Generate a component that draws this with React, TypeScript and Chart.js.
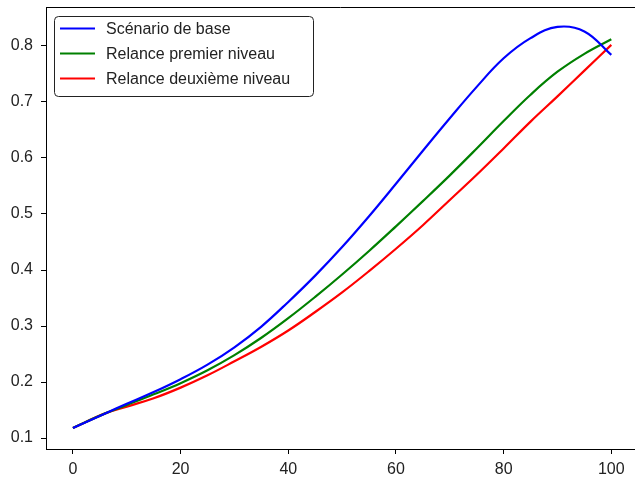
import React, { useEffect, useRef } from "react";
import { Chart, registerables } from "chart.js";

Chart.register(...registerables);

const xValues = [0, 6, 10, 15, 20, 25, 30, 35, 40, 45, 50, 55, 60, 65, 70, 75, 80, 85, 90, 95, 100];
const baseSeries = [0.118, 0.144, 0.161, 0.182, 0.205, 0.231, 0.262, 0.299, 0.343, 0.39, 0.441, 0.496, 0.554, 0.613, 0.671, 0.727, 0.778, 0.814, 0.834, 0.826, 0.784];
const firstSeries = [0.118, 0.144, 0.159, 0.178, 0.198, 0.221, 0.248, 0.279, 0.314, 0.352, 0.392, 0.434, 0.478, 0.523, 0.569, 0.617, 0.666, 0.713, 0.754, 0.786, 0.812];
const secondSeries = [0.118, 0.144, 0.156, 0.171, 0.19, 0.212, 0.237, 0.263, 0.292, 0.325, 0.36, 0.398, 0.438, 0.48, 0.525, 0.57, 0.617, 0.665, 0.71, 0.756, 0.802];
const seriesLabels = ["Scénario de base", "Relance premier niveau", "Relance deuxième niveau"];
const seriesColors = ["#0000ff", "#008000", "#ff0000"];
const xTicks = [0, 20, 40, 60, 80, 100];
const yTicks = [0.1, 0.2, 0.3, 0.4, 0.5, 0.6, 0.7, 0.8];

const FONT = "'Liberation Sans', Arial, sans-serif";

const framePlugin = {
  id: "frameAndLegend",
  afterDraw(chart: any) {
    const ctx = chart.ctx;
    const a = chart.chartArea;
    ctx.save();
    ctx.strokeStyle = "#000";
    ctx.lineWidth = 1;
    ctx.beginPath();
    ctx.moveTo(a.left, Math.round(a.top) + 0.5);
    ctx.lineTo(a.right, Math.round(a.top) + 0.5);
    ctx.stroke();

    // legend
    const bx = 54.5, by = 16.5, bw = 259, bh = 80;
    ctx.beginPath();
    (ctx as any).roundRect(bx, by, bw, bh, 4);
    ctx.fillStyle = "rgba(255,255,255,0.9)";
    ctx.fill();
    ctx.strokeStyle = "#222";
    ctx.lineWidth = 1;
    ctx.stroke();
    ctx.font = `16px ${FONT}`;
    ctx.textBaseline = "middle";
    ctx.textAlign = "left";
    chart.data.datasets.forEach((ds: any, i: number) => {
      const y = 28.5 + 25 * i;
      ctx.strokeStyle = ds.borderColor;
      ctx.lineWidth = 2;
      ctx.beginPath();
      ctx.moveTo(60, y);
      ctx.lineTo(95, y);
      ctx.stroke();
      ctx.fillStyle = "#222";
      ctx.fillText(ds.label, 106, y + 1);
    });
    ctx.restore();
  },
};

export default function App() {
  const ref = useRef<HTMLCanvasElement>(null);
  useEffect(() => {
    if (!ref.current) return;
    const series = [baseSeries, firstSeries, secondSeries];
    const chart = new Chart(ref.current, {
      type: "line",
      data: {
        datasets: series.map((s, i) => ({
          label: seriesLabels[i],
          data: xValues.map((x, j) => ({ x, y: s[j] })),
          borderColor: seriesColors[i],
          backgroundColor: seriesColors[i],
          borderWidth: 2.2,
          pointRadius: 0,
          tension: 0.4,
          fill: false,
        })),
      },
      options: {
        animation: false,
        responsive: false,
        devicePixelRatio: 1,
        layout: { padding: { top: 7, right: 0, left: 0, bottom: 0 } },
        plugins: { legend: { display: false }, tooltip: { enabled: false } },
        scales: {
          x: {
            type: "linear",
            min: -5,
            max: 104.4,
            afterBuildTicks: (scale: any) => {
              scale.ticks = xTicks.map((v) => ({ value: v }));
            },
            afterFit: (scale: any) => {
              scale.height = 32;
              scale.paddingLeft = 0;
              scale.paddingRight = 0;
            },
            grid: { drawOnChartArea: false, drawTicks: true, tickLength: 5, color: "#000", tickColor: "#000" },
            border: { display: true, color: "#000", width: 1 },
            ticks: {
              color: "#222",
              font: { family: FONT, size: 16 },
              padding: 6,
              maxRotation: 0,
              autoSkip: false,
              callback: (v: any) => String(v),
            },
          },
          y: {
            type: "linear",
            min: 0.0804,
            max: 0.8696,
            afterBuildTicks: (scale: any) => {
              scale.ticks = yTicks.map((v) => ({ value: v }));
            },
            afterFit: (scale: any) => {
              scale.width = 46;
              scale.paddingTop = 0;
              scale.paddingBottom = 0;
            },
            grid: { drawOnChartArea: false, drawTicks: true, tickLength: 5, color: "#000", tickColor: "#000" },
            border: { display: true, color: "#000", width: 1 },
            ticks: {
              color: "#222",
              font: { family: FONT, size: 16 },
              padding: 8,
              autoSkip: false,
              callback: (v: any) => Number(v).toFixed(1),
            },
          },
        },
      },
      plugins: [framePlugin],
    });
    return () => chart.destroy();
  }, []);
  return (
    <div style={{ position: "absolute", left: 0, top: 0, width: 635, height: 481, background: "#fff" }}>
      <canvas ref={ref} width={635} height={481} style={{ display: "block", width: 635, height: 481 }} />
    </div>
  );
}
